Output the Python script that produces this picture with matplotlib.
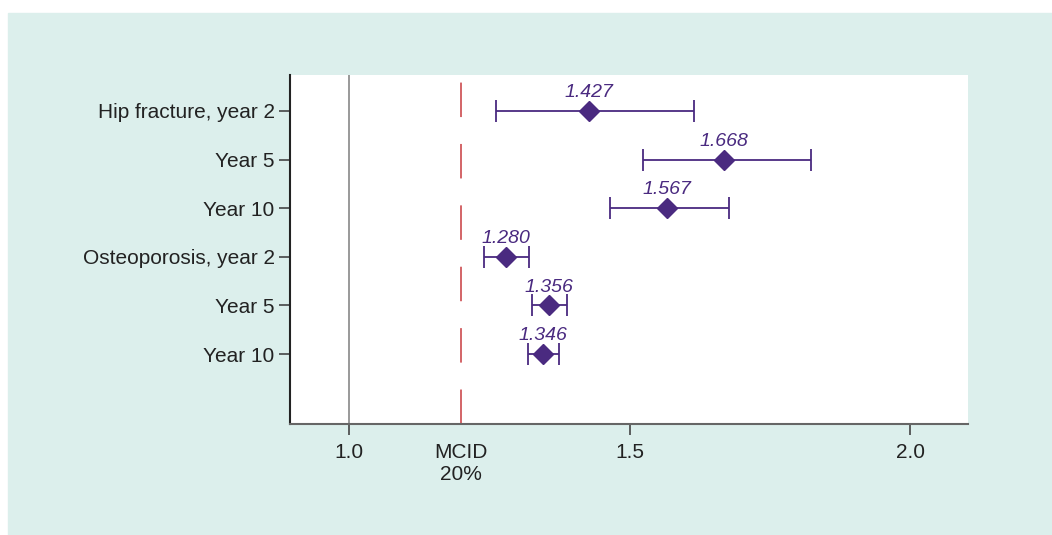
import matplotlib.pyplot as plt
from matplotlib.patches import Rectangle

# data
labels = ["Hip fracture, year 2", "Year 5", "Year 10",
          "Osteoporosis, year 2", "Year 5", "Year 10"]
estimates = [1.427, 1.668, 1.567, 1.280, 1.356, 1.346]
lower = [1.262, 1.524, 1.465, 1.241, 1.326, 1.319]
upper = [1.615, 1.824, 1.677, 1.321, 1.389, 1.374]
mcid = 1.2
xtick_vals = [1.0, mcid, 1.5, 2.0]
xtick_labels = ["1.0", "MCID\n20%", "1.5", "2.0"]

purple = "#4a2a80"
plt.rcParams['font.family'] = ['Liberation Sans', 'DejaVu Sans']

fig = plt.figure(figsize=(10.52, 5.35), dpi=100)
fig.add_artist(Rectangle((8 / 1052, 0), 1 - 8 / 1052, 1 - 13 / 535,
                         transform=fig.transFigure, color="#dcefec",
                         zorder=-5))

ax = fig.add_axes([290 / 1052, 111 / 535, 678 / 1052, 349 / 535])
ax.set_facecolor("white")

ypos = list(range(1, len(labels) + 1))
xerr = [[e - l for e, l in zip(estimates, lower)],
        [u - e for e, u in zip(estimates, upper)]]
ax.errorbar(estimates, ypos, xerr=xerr, fmt="D", color=purple, ms=10,
            elinewidth=1.3, capsize=8, capthick=1.3, zorder=3)
for x, y in zip(estimates, ypos):
    ax.text(x, y - 0.2, f"{x:.3f}", color=purple, fontsize=14,
            style="italic", ha="center", va="bottom")

ax.axvline(1.0, color="#888888", lw=1.2, zorder=1)
# dash lengths are scaled by linewidth
ax.axvline(mcid, color="#d0585c", lw=1.3, dashes=(19.1, 14.9), zorder=1)

ax.set_xlim(0.895, 2.103)
ax.set_ylim(7.44, 0.26)
ax.set_yticks(ypos)
ax.set_yticklabels(labels, fontsize=15, color="#222222")
ax.set_xticks(xtick_vals)
ax.set_xticklabels(xtick_labels, fontsize=15, color="#222222")
ax.tick_params(axis="both", direction="out", length=8, width=1.2,
               color="#444444")
ax.tick_params(axis="x", pad=6)
ax.tick_params(axis="y", pad=3)
ticks = ax.xaxis.get_major_ticks()
ticks[0].tick1line.set_color("#888888")
ticks[1].tick1line.set_visible(False)

for side in ["top", "right"]:
    ax.spines[side].set_visible(False)
ax.spines["left"].set_color("#222222")
ax.spines["bottom"].set_color("#666666")
ax.spines["left"].set_linewidth(1.5)
ax.spines["bottom"].set_linewidth(1.5)

plt.savefig("out.png", dpi=100)
